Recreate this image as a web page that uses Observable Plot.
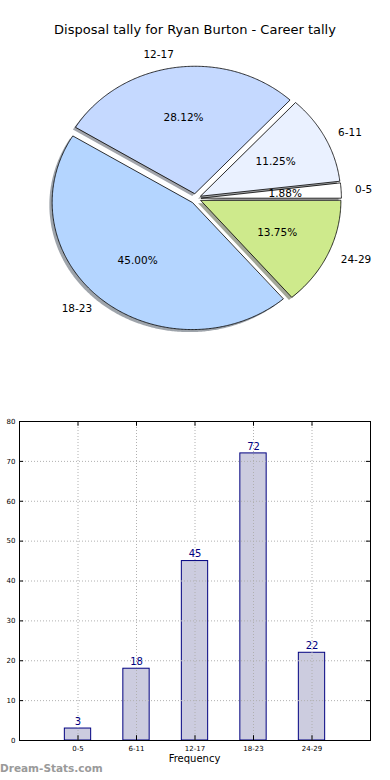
<!DOCTYPE html>
<html><head><meta charset="utf-8">
<script src="https://cdn.jsdelivr.net/npm/d3@7"></script>
<script src="https://cdn.jsdelivr.net/npm/@observablehq/plot@0.6"></script>
<style>
body{margin:0;background:#fff;font-family:"DejaVu Sans",sans-serif;}
#wrap{position:relative;width:390px;height:780px;overflow:hidden;}
.abs{position:absolute;}
</style></head>
<body><div id="wrap"></div>
<script>
const titleText = "Disposal tally for Ryan Burton - Career tally";
const categories = ["0-5","6-11","12-17","18-23","24-29"];
const counts = [3,18,45,72,22];
const pieColors = ["#ffffff","#eaf1ff","#c5d9ff","#b4d5ff","#ceea8c"];
const yTicks = [0,10,20,30,40,50,60,70,80];
const xLabel = "Frequency";
const watermark = "Dream-Stats.com";

const wrap = document.getElementById("wrap");
const font = '"DejaVu Sans", sans-serif';

// Python-style "%1.2f" (round half to even for exact halves)
function pyFixed2(v){
  const s = v*100, f = Math.floor(s), frac = s - f;
  let r;
  if (Math.abs(frac-0.5) < 1e-9) r = (f % 2 === 0) ? f : f+1;
  else r = Math.round(s);
  return (r/100).toFixed(2);
}

// Title
const t = document.createElement("div");
t.className = "abs";
t.style.cssText = "left:0;width:390px;top:22px;text-align:center;font-size:13px;color:#000;";
t.textContent = titleText;
wrap.appendChild(t);

// ---- Pie ----
const total = d3.sum(counts);
const explode = 0.04;
let acc = 0;
const slices = categories.map((c,i)=>{
  const a0 = acc/total*2*Math.PI; acc += counts[i];
  const a1 = acc/total*2*Math.PI;
  const mid = (a0+a1)/2;
  const ox = explode*Math.cos(mid), oy = explode*Math.sin(mid);
  const pts = [{x:ox,y:oy}];
  const n = Math.max(4, Math.ceil((a1-a0)/0.01));
  for (let k=0;k<=n;k++){const a=a0+(a1-a0)*k/n; pts.push({x:ox+Math.cos(a), y:oy+Math.sin(a)});}
  return {cat:c, color:pieColors[i], pts, mid, ox, oy,
    pct:pyFixed2(counts[i]/total*100)+"%",
    lx: ox+1.1*Math.cos(mid), ly: oy+1.1*Math.sin(mid),
    px: ox+0.6*Math.cos(mid), py: oy+0.6*Math.sin(mid)};
});
const shadowOff = 0.02;
const pieMarks = [];
slices.forEach(s=>{
  pieMarks.push(Plot.line(s.pts.map(p=>({x:p.x-shadowOff,y:p.y-shadowOff})),
    {x:"x",y:"y",curve:"linear-closed",fill:d3.color(s.color).darker(3).formatHex(),fillOpacity:0.5,stroke:"none"}));
});
slices.forEach(s=>{
  pieMarks.push(Plot.line(s.pts,{x:"x",y:"y",curve:"linear-closed",fill:s.color,stroke:"#000",strokeWidth:0.8}));
});
pieMarks.push(Plot.text(slices.filter(s=>Math.cos(s.mid)>=0),{x:"lx",y:"ly",text:"cat",textAnchor:"start",fontSize:10.5,fill:"#000"}));
pieMarks.push(Plot.text(slices.filter(s=>Math.cos(s.mid)<0),{x:"lx",y:"ly",text:"cat",textAnchor:"end",fontSize:10.5,fill:"#000"}));
pieMarks.push(Plot.text(slices,{x:"px",y:"py",text:"pct",fontSize:10.5,fill:"#000"}));

const cx=195.3, cy=198, rx=140, ry=127.2;
const pie = Plot.plot({
  width:390, height:400, margin:0,
  style:{fontFamily:font, background:"transparent"},
  x:{domain:[-1,1], range:[cx-rx,cx+rx], axis:null},
  y:{domain:[-1,1], range:[cy+ry,cy-ry], axis:null},
  marks: pieMarks
});
pie.classList.add("abs"); pie.style.left="0px"; pie.style.top="0px";
wrap.appendChild(pie);

// ---- Bar chart ----
const bars = categories.map((c,i)=>({cat:c, pos:i+1, count:counts[i]}));
const xPos = bars.map(b=>b.pos);
const barW = 0.45;
const grid = {stroke:"#b0b0b0", strokeDasharray:"1,2", strokeWidth:1};
const bar = Plot.plot({
  width:390, height:380,
  marginLeft:19, marginRight:20, marginTop:21, marginBottom:40,
  style:{fontFamily:font, background:"transparent", color:"#000"},
  x:{domain:[0,6]},
  y:{domain:[0,80]},
  marks:[
    Plot.rectY(bars,{x1:d=>d.pos-barW/2, x2:d=>d.pos+barW/2, y1:0, y2:"count", fill:"#ccccdf", stroke:"#000080", strokeWidth:1}),
    Plot.ruleX(xPos,{...grid}),
    Plot.ruleY(yTicks.slice(1,-1),{...grid}),
    Plot.ruleY(yTicks,{x1:0,x2:0.07,stroke:"#000"}),
    Plot.ruleY(yTicks,{x1:5.93,x2:6,stroke:"#000"}),
    Plot.ruleX(xPos,{y1:0,y2:1.2,stroke:"#000"}),
    Plot.ruleX(xPos,{y1:78.8,y2:80,stroke:"#000"}),
    Plot.text(bars,{x:"pos",y:"count",text:d=>String(d.count),dy:-7,fill:"#000080",fontSize:10}),
    Plot.frame({stroke:"#000"}),
    Plot.axisX({ticks:xPos, tickFormat:i=>categories[i-1], tickSize:0, tickPadding:6, fontSize:7, label:null}),
    Plot.axisY({ticks:yTicks, tickSize:0, tickPadding:4, fontSize:7, label:null})
  ]
});
bar.classList.add("abs"); bar.style.left="0px"; bar.style.top="400px";
wrap.appendChild(bar);

const xl = document.createElement("div");
xl.className="abs";
xl.style.cssText="left:19px;width:351px;top:753px;text-align:center;font-size:10px;color:#000;";
xl.textContent = xLabel;
wrap.appendChild(xl);

const wm = document.createElement("div");
wm.className="abs";
wm.style.cssText="left:0;top:762px;font-size:10.5px;font-weight:bold;color:#9a9a9a;";
wm.textContent = watermark;
wrap.appendChild(wm);
</script></body></html>
